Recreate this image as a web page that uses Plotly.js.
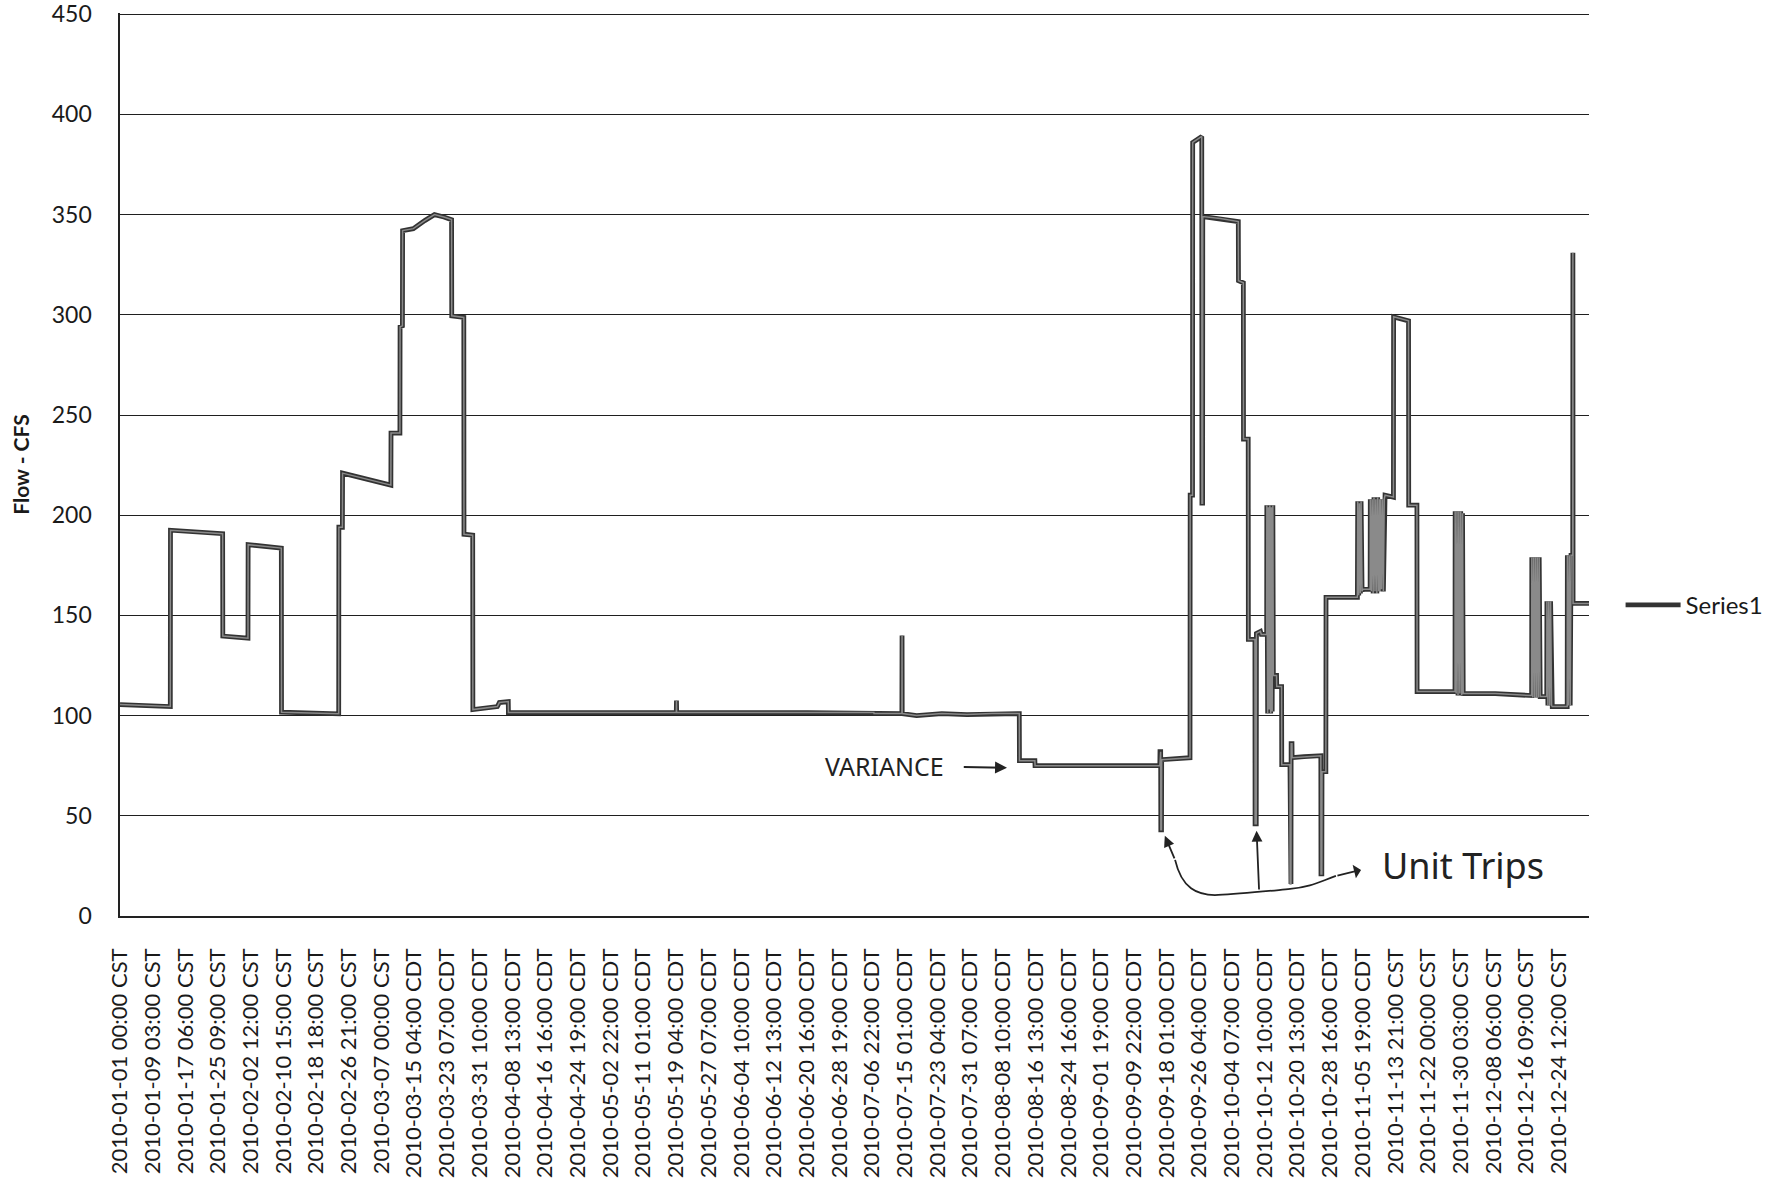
<!DOCTYPE html>
<html><head><meta charset="utf-8">
<script src="https://cdn.plot.ly/plotly-3.0.1.min.js"></script>
<style>html,body{margin:0;padding:0;background:#fff}#chart{width:1775px;height:1193px}</style>
</head><body><div id="chart"></div>
<script>
// Category tick labels (one every 195 hourly readings)
const tickLabels = [
 '2010-01-01 00:00 CST','2010-01-09 03:00 CST','2010-01-17 06:00 CST','2010-01-25 09:00 CST',
 '2010-02-02 12:00 CST','2010-02-10 15:00 CST','2010-02-18 18:00 CST','2010-02-26 21:00 CST',
 '2010-03-07 00:00 CST','2010-03-15 04:00 CDT','2010-03-23 07:00 CDT','2010-03-31 10:00 CDT',
 '2010-04-08 13:00 CDT','2010-04-16 16:00 CDT','2010-04-24 19:00 CDT','2010-05-02 22:00 CDT',
 '2010-05-11 01:00 CDT','2010-05-19 04:00 CDT','2010-05-27 07:00 CDT','2010-06-04 10:00 CDT',
 '2010-06-12 13:00 CDT','2010-06-20 16:00 CDT','2010-06-28 19:00 CDT','2010-07-06 22:00 CDT',
 '2010-07-15 01:00 CDT','2010-07-23 04:00 CDT','2010-07-31 07:00 CDT','2010-08-08 10:00 CDT',
 '2010-08-16 13:00 CDT','2010-08-24 16:00 CDT','2010-09-01 19:00 CDT','2010-09-09 22:00 CDT',
 '2010-09-18 01:00 CDT','2010-09-26 04:00 CDT','2010-10-04 07:00 CDT','2010-10-12 10:00 CDT',
 '2010-10-20 13:00 CDT','2010-10-28 16:00 CDT','2010-11-05 19:00 CDT','2010-11-13 21:00 CST',
 '2010-11-22 00:00 CST','2010-11-30 03:00 CST','2010-12-08 06:00 CST','2010-12-16 09:00 CST',
 '2010-12-24 12:00 CST'
];
const labelStepHours = 195;
const yTicks = [0, 50, 100, 150, 200, 250, 300, 350, 400, 450];

// Flow (CFS) breakpoints, x = hour of year (0 = 2010-01-01 00:00)
const hoursJanMar = [0,300,301,612,613,763,764,962,963,1304,1305,1326,1327,1615,1616,1669,1670,1684,1685,1749,1817,1875,1931,1977,1978,2050,2051,2103,2104,2250,2262,2315];
const flowJanMar  = [105.5,104.5,192.5,190.8,139.7,138.6,185.3,183.6,101.7,100.9,194,194,221,215,241,241,294,294.5,342,343,347,350,348.8,347.5,299.5,298.7,190.5,190,103,104.5,106.5,107];

const hoursAprAug = [2316,2900,3317,3318,3319,4100,4495,4496,4662,4663,4664,4750,4900,5050,5200,5362,5363,5455,5456,6200];
const flowAprAug  = [101.5,101.5,101.5,107.5,101.5,101.5,101.5,101,101,140,101,100,101,100.5,101,101,77.5,77.5,75,75];

const hoursSepOct = [6201,6205,6206,6210,6211,6300,6380,6381,6395,6396,6450,6451,6455,6456,6560,6668,6669,6698,6699,6727,6728,6767,6768,6775,6776,6800,6805,6837,
 6838,6843,6847,6852,6856,6861,6865,6870,6874,6877,6896,6897,6926,6927,6976,6977,6982,6983,6988,6989,7060,7160,7161,7166,7167,7190,7191];
const flowSepOct  = [82,82,43,43,78,78.5,79,210,210,386,389,206,206,349,348,346.5,317,316,238,238,138,138,46,46,141,142,140.5,140.5,
 205,101,204,103,205,101,204,102,205,120,120,114.5,114.5,75.5,75.5,16,16,86,86,79,79.5,80,21,21,72,72,159];

const hoursNovDec = [7378,7380,7386,7390,7396,7400,7406,7410,7454,
 7455,7461,7466,7472,7477,7483,7488,7494,7499,7505,7510,7513,7516,7522,7527,7533,7538,7543,7593,7594,7683,7684,7733,7734,7960,
 7961,7967,7972,7978,7983,7989,7994,8000,8005,8009,8200,8417,
 8418,8424,8429,8435,8440,8446,8451,8457,8462,8468,8507,
 8508,8514,8519,8525,8530,8536,8540,8629,
 8630,8636,8641,8647,8652,8662,8663,8664,8759];
const flowNovDec  = [159,207,160,206,161,207,162,163,163,
 208,162,208,161,209,162,208,161,209,162,208,162,208,163,208,162,208,210,209,299,297,205,205,112,112,
 202,111,202,110,202,111,202,110,201,111,111,110,
 179,109,179,109,179,109,179,109,179,109.5,109.5,
 157,105,157,105,157,105,104.5,104.5,
 180,105,180,105,180,180,331,156,156];

const hours = [].concat(hoursJanMar, hoursAprAug, hoursSepOct, hoursNovDec);
const flow  = [].concat(flowJanMar, flowAprAug, flowSepOct, flowNovDec);
const tickVals = tickLabels.map((_, i) => i * labelStepHours);

const outer = {x: hours, y: flow, type: 'scatter', mode: 'lines', name: 'Series1',
  line: {color: '#333333', width: 4.8}, hoverinfo: 'skip'};
const inner = {x: hours, y: flow, type: 'scatter', mode: 'lines', name: 'Series1', showlegend: false,
  line: {color: '#8a8a8a', width: 1.5}, hoverinfo: 'skip'};

const ink = '#222';
const hand = {family: '"Noto Sans", "DejaVu Sans", sans-serif', color: ink};

const layout = {
  width: 1775, height: 1193,
  margin: {l: 120, r: 186, t: 13, b: 277, autoexpand: false},
  paper_bgcolor: '#fff', plot_bgcolor: '#fff',
  font: {family: 'Lato, "Open Sans", sans-serif', color: '#1a1a1a', size: 23},
  showlegend: true,
  legend: {x: 1.0215, xanchor: 'left', y: 0.344, yanchor: 'middle', font: {size: 24},
           bgcolor: 'rgba(0,0,0,0)', itemwidth: 55},
  xaxis: {range: [0, 8759], tickmode: 'array', tickvals: tickVals, ticktext: tickLabels,
          tickangle: -90, showgrid: false, zeroline: false, showline: true, automargin: false,
          linecolor: '#222', linewidth: 1.6, ticks: '', ticklabelstandoff: 22,
          tickfont: {size: 22}},
  yaxis: {range: [0, 450.6], tickmode: 'array', tickvals: yTicks, ticktext: yTicks.map(String),
          showgrid: true, gridcolor: '#1f1f1f', gridwidth: 1, automargin: false,
          zeroline: false, showline: true, linecolor: '#222', linewidth: 1.6, ticks: '',
          ticklabelstandoff: 22, tickfont: {size: 23}, ticklabeloverflow: 'allow',
          title: {text: 'Flow - CFS', font: {size: 21, weight: 'bold'}, standoff: 16}},
  annotations: [
    {x: 5289, y: 74, xref: 'x', yref: 'y', ax: 4560, ay: 75, axref: 'x', ayref: 'y',
     text: 'VARIANCE', showarrow: true, arrowhead: 2, arrowsize: 1.2, arrowwidth: 2, arrowcolor: ink,
     startstandoff: 18, font: Object.assign({size: 25}, hand)},
    {x: 8005, y: 25, xref: 'x', yref: 'y', text: 'Unit Trips', showarrow: false,
     font: Object.assign({size: 36}, hand)},
    {x: 6230, y: 40, xref: 'x', yref: 'y', ax: 6291, ay: 28, axref: 'x', ayref: 'y',
     text: '', showarrow: true, arrowhead: 2, arrowsize: 1.2, arrowwidth: 1.8, arrowcolor: ink},
    {x: 6777, y: 42.5, xref: 'x', yref: 'y', ax: 6792, ay: 12.5, axref: 'x', ayref: 'y',
     text: '', showarrow: true, arrowhead: 2, arrowsize: 1.2, arrowwidth: 1.8, arrowcolor: ink},
    {x: 7400, y: 23, xref: 'x', yref: 'y', ax: 7250, ay: 20, axref: 'x', ayref: 'y',
     text: '', showarrow: true, arrowhead: 1, arrowsize: 1.3, arrowwidth: 1.8, arrowcolor: ink}
  ],
  shapes: [
    {type: 'path', xref: 'x', yref: 'y',
     path: 'M6291,28 C6330,14 6420,10 6548,10.5 S6850,12.5 6977,13.5 S7150,17 7250,20',
     line: {color: ink, width: 1.8}}
  ]
};

Plotly.newPlot('chart', [outer, inner], layout, {staticPlot: true, displayModeBar: false});
</script>
</body></html>
